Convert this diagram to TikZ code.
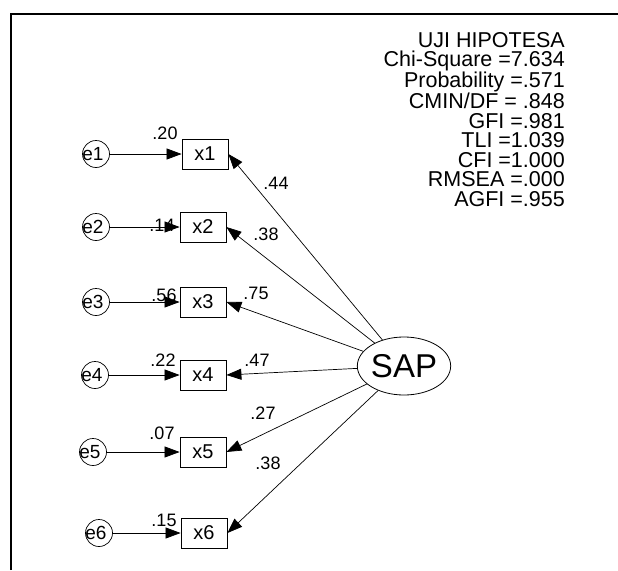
\documentclass[tikz,border=0pt]{standalone}
\usepackage{fontspec}
\setmainfont{Liberation Sans}
\newfontfamily\sapfont{Liberation Sans}
\usetikzlibrary{
    shapes.geometric,
    arrows.meta
}
\tikzset{
  obs/.style={rectangle, draw, line width=0.8pt,
              minimum width=46pt, minimum height=30pt,
              inner sep=0pt, font=\fontsize{20}{20}\selectfont},
  err/.style={circle, draw, line width=0.7pt, minimum size=27pt,
              inner sep=0pt},
  etxt/.style={inner sep=0pt, xshift=-3pt,
               font=\fontsize{19}{19}\selectfont},
  lat/.style={ellipse, draw, line width=0.8pt,
              minimum width=88pt, minimum height=58pt,
              inner sep=0pt, font=\sapfont\fontsize{33}{33}\selectfont},
  wt/.style={inner sep=0pt, font=\fontsize{18}{18}\selectfont},
  load/.style={-{Triangle[length=15pt, width=11pt]}, line width=0.7pt},
  stats/.style={inner sep=0pt, align=right,
                font=\fontsize{21.5}{19.5}\selectfont},
}

\begin{document}
\begin{tikzpicture}[x=1pt, y=-1pt]

  \useasboundingbox (0,0) rectangle (618,570);

  % frame
  \draw[line width=2pt] (11,570) -- (11,14) -- (618,14);

  % indicators
  \node[obs] (x1) at (205,154) {x1};
  \node[obs] (x2) at (203,227) {x2};
  \node[obs] (x3) at (203,302) {x3};
  \node[obs] (x4) at (203,375) {x4};
  \node[obs] (x5) at (203,452) {x5};
  \node[obs] (x6) at (204,533) {x6};

  % errors
  \node[err, label={[etxt]center:e1}] (e1) at (96,154) {};
  \node[err, label={[etxt]center:e2}] (e2) at (96,227) {};
  \node[err, label={[etxt]center:e3}] (e3) at (96,302) {};
  \node[err, label={[etxt]center:e4}] (e4) at (95,375) {};
  \node[err, label={[etxt]center:e5}] (e5) at (93,452) {};
  \node[err, label={[etxt]center:e6}] (e6) at (99,533) {};

  % latent
  \node[lat] (sap) at (404,366) {SAP};

  \draw[load] (e1) -- (x1);
  \draw[load] (e2) -- (x2);
  \draw[load] (e3) -- (x3);
  \draw[load] (e4) -- (x4);
  \draw[load] (e5) -- (x5);
  \draw[load] (e6) -- (x6);

  \draw[load] (sap) -- (x1.east);
  \draw[load] (sap) -- (x2.east);
  \draw[load] (sap) -- (x3.east);
  \draw[load] (sap) -- (x4.east);
  \draw[load] (sap) -- (x5.east);
  \draw[load] (sap) -- (x6.east);

  % squared multiple correlations
  \node[wt] (r1) at (165,133) {.20};
  \node[wt] (r2) at (162,225) {.14};
  \node[wt] (r3) at (164,295) {.56};
  \node[wt] (r4) at (163,360) {.22};
  \node[wt] (r5) at (162,433) {.07};
  \node[wt] (r6) at (164,520) {.15};

  % loadings
  \node[wt] (l1) at (276,183) {.44};
  \node[wt] (l2) at (266,234) {.38};
  \node[wt] (l3) at (256,293) {.75};
  \node[wt] (l4) at (257,360) {.47};
  \node[wt] (l5) at (263,413) {.27};
  \node[wt] (l6) at (268,463) {.38};

  % fit indices
  \node[stats, anchor=north east] (fitidx) at (565,32)
    {UJI HIPOTESA\\
     Chi-Square =7.634\\
     Probability =.571\\
     CMIN/DF = .848\\
     GFI =.981\\
     TLI =1.039\\
     CFI =1.000\\
     RMSEA =.000\\
     AGFI =.955};

\end{tikzpicture}
\end{document}
